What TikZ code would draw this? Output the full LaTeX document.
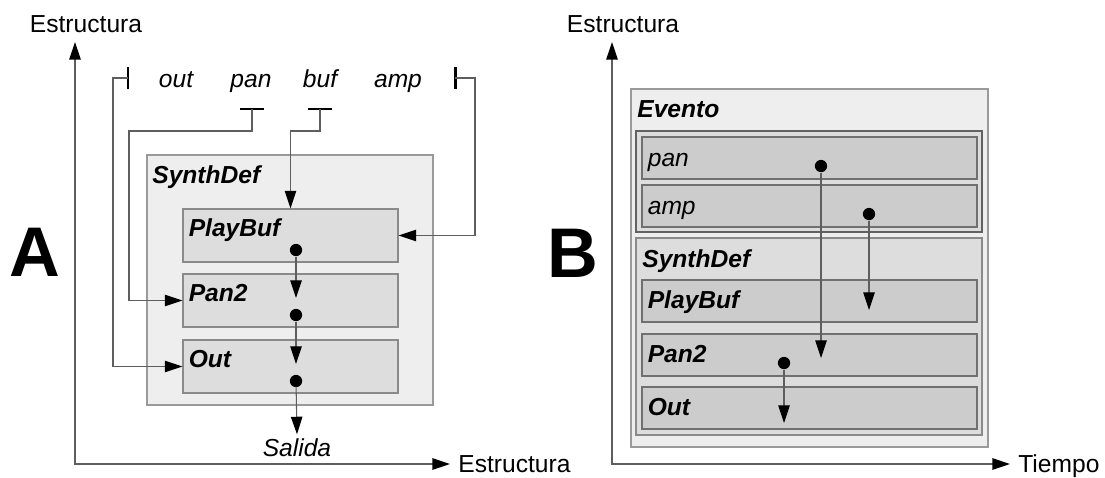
\documentclass[tikz,border=0pt]{standalone}
\usepackage{fontspec}
\setmainfont{Liberation Sans}
\usetikzlibrary{arrows.meta, positioning, calc, fit}
\definecolor{c1}{HTML}{000000}
\definecolor{wirecolor}{HTML}{5E5E5E}
\definecolor{outerfill}{HTML}{EEEEEE}
\definecolor{outerline}{HTML}{9A9A9A}
\definecolor{innerfill}{HTML}{DDDDDD}
\definecolor{innerline}{HTML}{8A8A8A}
\definecolor{slotfill}{HTML}{CCCCCC}
\definecolor{slotline}{HTML}{707070}
\definecolor{groupline}{HTML}{626262}

\begin{document}
\begin{tikzpicture}[x=0.02cm, y=-0.02cm,
    every node/.style={font=\fontsize{14}{16}\selectfont, inner sep=0pt},
    axlab/.style={anchor=base},
    par/.style={anchor=base, font=\fontsize{14}{16}\selectfont\itshape},
    title/.style={anchor=base west, font=\fontsize{14}{16}\selectfont\bfseries\itshape},
    big/.style={font=\fontsize{40}{44}\selectfont\bfseries},
    outer/.style={draw=outerline, fill=outerfill, line width=0.6pt},
    inner/.style={draw=innerline, fill=innerfill, line width=0.6pt},
    slot/.style={draw=slotline, fill=slotfill, line width=0.6pt},
    dot/.style={circle, fill=c1, minimum size=7pt},
    bar/.style={c1, line width=1.7pt},
    axis/.style={wirecolor, line width=0.7pt,
        {Triangle[length=10pt, width=6.5pt, color=c1]}-{Triangle[length=10pt, width=6.5pt, color=c1]}},
    wire/.style={wirecolor, line width=0.6pt, -{Triangle[length=10pt, width=6.5pt, color=c1]}},
]
\useasboundingbox (0,0) rectangle (1105,477);

% ---------------------------------------------------------------- panel A
\node[big] (lettera) at (35,252) {A};

\coordinate (a-ytip) at (75,42);
\coordinate (a-orig) at (75,464);
\coordinate (a-xtip) at (450,464);
\draw[axis] (a-ytip) -- (a-orig) -- (a-xtip);
\node[axlab] (a-ylab) at (86,32) {Estructura};
\node[axlab, anchor=base west] (a-xlab) at (458,472) {Estructura};

% arguments
\foreach \x/\name in {176/out, 251/pan, 320/buf, 398/amp}{
    \node[par] (arg-\name) at (\x,87) {\name};
}
\coordinate (outbar) at (128,78);
\coordinate (ampbar) at (455,78);
\coordinate (panbar) at (252,109);
\coordinate (bufbar) at (320,109);
\draw[bar] (outbar) ++(0,-11) -- ++(0,22);
\draw[bar] (ampbar) ++(0,-11) -- ++(0,22);
\draw[bar] (panbar) ++(-12,0) -- ++(24,0);
\draw[bar] (bufbar) ++(-12,0) -- ++(24,0);

\node[outer, fit={(147,155) (433,405)}] (a-synth) {};
\node[title] (a-synth-t) at (152,183) {SynthDef};
\foreach \n/\t/\y in {play/PlayBuf/209, pan/Pan2/274, out/Out/340}{
    \node[inner, fit={(183,\y) (398,\y+53)}] (a-\n) {};
    \node[title] (a-\n-t) at ($(a-\n.north west)+(6,28)$) {\t};
}

% control inputs
\draw[wire] (outbar) -- ++(-15,0) |- (a-out.west);
\draw[wire] (panbar) -- ++(0,22) -- ++(-123,0) |- (a-pan.west);
\draw[wire] (bufbar) -- ++(0,22) -| (a-play.north);
\draw[wire] (ampbar) -- ++(20,0) |- (a-play.east);

% signal chain
\node[dot] (a-d1) at (296,250) {};
\node[dot] (a-d2) at (296,315) {};
\node[dot] (a-d3) at (296,381) {};
\coordinate (a-t1) at (296,298);
\coordinate (a-t2) at (296,364);
\node[par] (salida) at (297,456) {Salida};
\draw[wire] (a-d1) -- (a-t1);
\draw[wire] (a-d2) -- (a-t2);
\draw[wire] (a-d3) -- ([yshift=2pt]salida.north);

% ---------------------------------------------------------------- panel B
\node[big] (letterb) at (573,253) {B};

\coordinate (b-ytip) at (612,42);
\coordinate (b-orig) at (612,464);
\coordinate (b-xtip) at (1010,464);
\draw[axis] (b-ytip) -- (b-orig) -- (b-xtip);
\node[axlab] (b-ylab) at (623,32) {Estructura};
\node[axlab, anchor=base west] (b-xlab) at (1018,472) {Tiempo};

\node[outer, fit={(631,89) (988,447)}] (evento) {};
\node[title] (evento-t) at (637,117) {Evento};

\node[inner, draw=groupline, fit={(636,131) (982,232)}] (b-args) {};
\node[inner, fit={(636,238) (982,435)}] (b-synth) {};
\node[title] (b-synth-t) at (642,267) {SynthDef};

\foreach \n/\t/\y in {pan/pan/137, amp/amp/185}{
    \node[slot, fit={(642,\y) (977,\y+42)}] (b-\n) {};
    \node[par, anchor=base west] (b-\n-t) at ($(b-\n.west)+(6,8)$) {\t};
}
\foreach \n/\t/\y in {play/PlayBuf/280, pan2/Pan2/334, out/Out/387}{
    \node[slot, fit={(642,\y) (977,\y+42)}] (b-\n) {};
    \node[title] (b-\n-t) at ($(b-\n.west)+(6,7.5)$) {\t};
}

% when each value arrives
\node[dot] (b-dpan) at (821,166) {};
\node[dot] (b-damp) at (869,214) {};
\node[dot] (b-dpan2) at (784,363) {};
\coordinate (b-tpan) at (821,358);
\coordinate (b-tamp) at (869,310);
\coordinate (b-tout) at (784,423);
\draw[wire] (b-dpan) -- (b-tpan);
\draw[wire] (b-damp) -- (b-tamp);
\draw[wire] (b-dpan2) -- (b-tout);

\end{tikzpicture}
\end{document}
